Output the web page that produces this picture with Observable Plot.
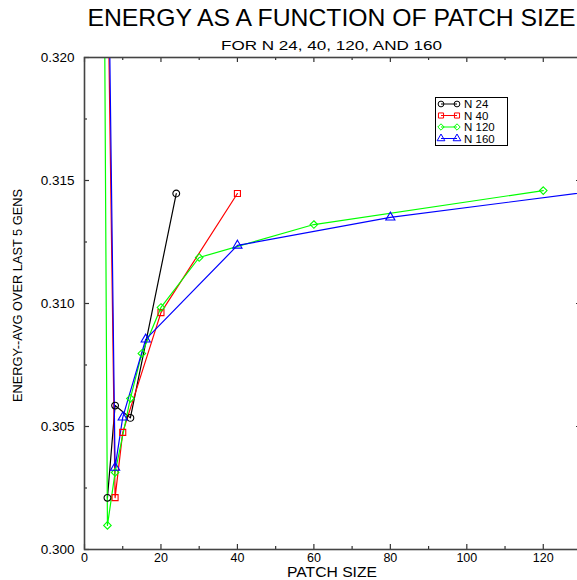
<!DOCTYPE html>
<html><head><meta charset="utf-8">
<script src="https://cdn.jsdelivr.net/npm/d3@7"></script>
<script src="https://cdn.jsdelivr.net/npm/@observablehq/plot@0.6"></script>
<style>
html,body{margin:0;padding:0;background:#fff;overflow:hidden;width:577px;height:580px}
#chart{position:relative;width:662px;height:580px}
</style></head><body><div id="chart"></div>
<script>
const titleText = "ENERGY AS A FUNCTION OF PATCH SIZE";
const subtitleText = "FOR N 24, 40, 120, AND 160";
const xLabel = "PATCH SIZE";
const yLabel = "ENERGY--AVG OVER LAST 5 GENS";

const seriesNames = ["N 24", "N 40", "N 120", "N 160"];
const seriesColors = ["#000000", "#ff0000", "#00ff00", "#0000ff"];
const seriesSymbols = ["circle", "square", "diamond2", "triangle"];

const n24Patch = [6, 8, 12, 24];
const n24Energy = [0.30210, 0.30585, 0.30535, 0.31447];
const n40Patch = [5, 8, 10, 20, 40];
const n40Energy = [0.3358, 0.30211, 0.30476, 0.30963, 0.31447];
const n120Patch = [5, 6, 8, 12, 15, 20, 30, 60, 120];
const n120Energy = [0.3287, 0.30098, 0.30313, 0.30614, 0.30797, 0.30984, 0.31187, 0.31321, 0.31459];
const n160Patch = [5, 8, 10, 16, 40, 80, 160];
const n160Energy = [0.3398, 0.30333, 0.30537, 0.30854, 0.31236, 0.31350, 0.31510];

const xMajorTicks = [0, 20, 40, 60, 80, 100, 120];
const xMinorTicks = [10, 30, 50, 70, 90, 110];
const yMajorTicks = [0.300, 0.305, 0.310, 0.315, 0.320];
const yMinorTicks = [0.3025, 0.3075, 0.3125, 0.3175];

const rows = [];
[[n24Patch, n24Energy], [n40Patch, n40Energy], [n120Patch, n120Energy], [n160Patch, n160Energy]]
  .forEach(([xs, ys], k) => xs.forEach((x, i) => rows.push({series: seriesNames[k], patch: x, energy: ys[i]})));

const W = 662, H = 580, mL = 84, mR = 81, mT = 57, mB = 31;
const plotW = W - mL - mR, plotH = H - mT - mB;
const font = "'Liberation Sans', Arial, Helvetica, sans-serif";

const chart = Plot.plot({
  width: W, height: H,
  marginLeft: mL, marginRight: mR, marginTop: mT, marginBottom: mB,
  style: {fontFamily: font, background: "#fff", color: "#000"},
  x: {domain: [0, 130]},
  y: {domain: [0.300, 0.320]},
  color: {domain: seriesNames, range: seriesColors},
  symbol: {domain: seriesNames, range: seriesSymbols},
  marks: [
    Plot.axisX({ticks: xMajorTicks, tickSize: 0, tickPadding: 4, tickFormat: d => String(d), fontSize: 12.5, label: null}),
    Plot.axisY({ticks: yMajorTicks, tickSize: 0, tickPadding: 10, tickFormat: d3.format(".3f"), fontSize: 13.5, label: null}),
    Plot.line(rows, {x: "patch", y: "energy", z: "series", stroke: "series", strokeWidth: 1.2, clip: true}),
    Plot.dot(rows, {x: "patch", y: "energy", symbol: "series", stroke: "series", fill: "none", r: 3.4, strokeWidth: 1.1, clip: true}),
    Plot.tickX(xMajorTicks, {x: d => d, insetTop: plotH - 5, stroke: "#333", strokeWidth: 1.2}),
    Plot.tickX(xMajorTicks, {x: d => d, insetBottom: plotH - 5, stroke: "#333", strokeWidth: 1.2}),
    Plot.tickX(xMinorTicks, {x: d => d, insetTop: plotH - 3, stroke: "#333", strokeWidth: 1.2}),
    Plot.tickX(xMinorTicks, {x: d => d, insetBottom: plotH - 3, stroke: "#333", strokeWidth: 1.2}),
    Plot.tickY(yMajorTicks, {y: d => d, insetRight: plotW - 5, stroke: "#333", strokeWidth: 1.2}),
    Plot.tickY(yMajorTicks, {y: d => d, insetLeft: plotW - 5, stroke: "#333", strokeWidth: 1.2}),
    Plot.tickY(yMinorTicks, {y: d => d, insetRight: plotW - 3, stroke: "#333", strokeWidth: 1.2}),
    Plot.tickY(yMinorTicks, {y: d => d, insetLeft: plotW - 3, stroke: "#333", strokeWidth: 1.2}),
    Plot.frame({stroke: "#444", strokeWidth: 1.6}),
    Plot.text([titleText], {frameAnchor: "top", lineAnchor: "middle", textAnchor: "middle", dx: -1.5, dy: -39.5, fontSize: 24, text: d => d, className: "ttl"}),
    Plot.text([subtitleText], {frameAnchor: "top", lineAnchor: "middle", textAnchor: "middle", dx: -1.5, dy: -11.5, fontSize: 13.5, text: d => d, className: "sub"}),
    Plot.text([xLabel], {frameAnchor: "bottom", lineAnchor: "middle", textAnchor: "middle", dx: -1, dy: 23.5, fontSize: 14, text: d => d, className: "xl"}),
    Plot.text([yLabel], {frameAnchor: "left", lineAnchor: "middle", textAnchor: "middle", dx: -67, dy: -8, rotate: -90, fontSize: 12.8, text: d => d})
  ]
});
document.getElementById("chart").appendChild(chart);

// stretch title, subtitle and x label to the reference widths
d3.select(chart).selectAll("g.ttl text").attr("textLength", 488).attr("lengthAdjust", "spacingAndGlyphs");
d3.select(chart).selectAll("g.sub text").attr("textLength", 221).attr("lengthAdjust", "spacingAndGlyphs");
d3.select(chart).selectAll("g.xl text").attr("textLength", 90).attr("lengthAdjust", "spacingAndGlyphs");

// legend box
const lg = d3.select(chart).append("g").attr("font-family", font).attr("font-size", 11.5).attr("text-anchor", "start");
lg.append("rect").attr("x", 435.5).attr("y", 97.5).attr("width", 72).attr("height", 48)
  .attr("fill", "#fff").attr("stroke", "#000").attr("stroke-width", 1);
const symMap = {circle: d3.symbolCircle, square: d3.symbolSquare, diamond2: d3.symbolDiamond2, triangle: d3.symbolTriangle};
seriesNames.forEach((name, i) => {
  const y = 104 + i * 11.5;
  const c = seriesColors[i];
  lg.append("line").attr("x1", 441).attr("x2", 457).attr("y1", y).attr("y2", y).attr("stroke", c).attr("stroke-width", 1);
  [441, 457].forEach(x => {
    lg.append("path").attr("d", d3.symbol(symMap[seriesSymbols[i]], 26)())
      .attr("transform", `translate(${x},${y})`).attr("fill", "none").attr("stroke", c).attr("stroke-width", 1);
  });
  lg.append("text").attr("x", 464).attr("y", y + 4).attr("fill", "#000").attr("text-anchor", "start").text(name);
});
</script></body></html>
